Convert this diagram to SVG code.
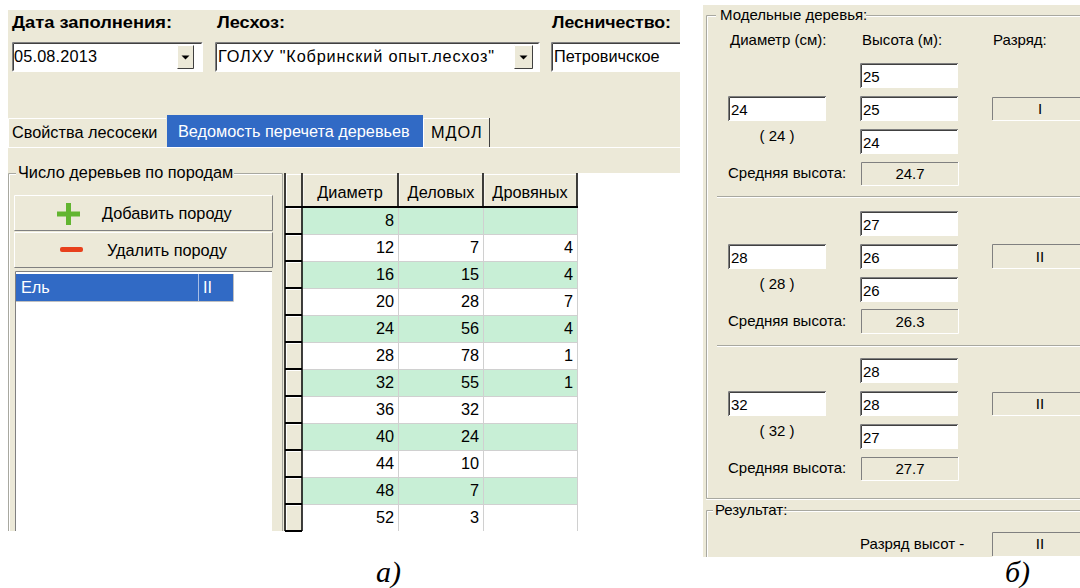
<svg xmlns="http://www.w3.org/2000/svg" width="1080" height="588" viewBox="0 0 1080 588">
<style>
text{font-family:"Liberation Sans",Arial,sans-serif;font-size:16.3px;fill:#000}
.b{font-weight:bold;font-size:16px}
.s{font-size:15px}
.n{font-size:15.3px}
.w{fill:#fff}
.m{text-anchor:middle}
.e{text-anchor:end}
.cap{font-family:"Liberation Serif","Times New Roman",serif;font-style:italic;font-size:30px}
.bg{fill:#ECE9D8}
.dk{stroke:#808080;fill:none}
.dd{stroke:#404040;fill:none}
.lt{stroke:#fff;fill:none}
.gv{stroke:#A8A8A0;fill:none}
.gl{stroke:#D0D0D0;fill:none}
.gr{fill:#C8EFD6}
.tb{fill:#fff}
</style>
<rect width="1080" height="588" fill="#fff"/>

<g id="panel-a">
<rect x="8" y="10" width="672" height="163" class="bg"/>
<rect x="8" y="173" width="275" height="358" class="bg"/>

<g id="header-labels">
<text x="12" y="28" class="b" textLength="160" lengthAdjust="spacingAndGlyphs">Дата заполнения:</text>
<text x="217" y="28" class="b" textLength="68" lengthAdjust="spacingAndGlyphs">Лесхоз:</text>
<text x="552" y="28" class="b" textLength="119" lengthAdjust="spacingAndGlyphs">Лесничество:</text>
</g>

<g id="combo-date">
<rect x="12" y="42" width="191" height="30" class="tb"/>
<path d="M12.5 71.5V42.5H202.5" class="dk"/>
<path d="M13.5 70.5V43.5H201.5" class="dd"/>
<path d="M12.5 71.5H202.5V42.5" stroke="#fff" fill="none"/>
<rect x="177" y="45" width="17" height="24" class="bg"/>
<path d="M177.5 68.5V45.5H193.5" class="lt"/>
<path d="M177.5 68.5H193.5V45.5" class="dd"/>
<path d="M181.5 55.5h8l-4 4z" fill="#000"/>
<text x="14" y="62" textLength="83">05.08.2013</text>
</g>

<g id="combo-leshoz">
<rect x="215" y="42" width="325" height="30" class="tb"/>
<path d="M215.5 71.5V42.5H539.5" class="dk"/>
<path d="M216.5 70.5V43.5H538.5" class="dd"/>
<rect x="514" y="45" width="19" height="24" class="bg"/>
<path d="M514.5 68.5V45.5H532.5" class="lt"/>
<path d="M514.5 68.5H532.5V45.5" class="dd"/>
<path d="M519.5 55.5h8l-4 4z" fill="#000"/>
<text x="218" y="62" textLength="276">ГОЛХУ "Кобринский опыт.лесхоз"</text>
</g>

<g id="combo-lesn">
<rect x="551" y="42" width="129" height="30" class="tb"/>
<path d="M551.5 71.5V42.5H680" class="dk"/>
<path d="M552.5 70.5V43.5H680" class="dd"/>
<text x="554" y="62">Петровичское</text>
</g>

<g id="tabs">
<path d="M8 147.5H680" class="lt"/>
<path d="M8.5 147V118.5H166" class="lt"/>
<text x="12" y="138">Свойства лесосеки</text>
<rect x="167" y="115" width="256" height="32" fill="#316AC5"/>
<text x="178" y="137" class="w">Ведомость перечета деревьев</text>
<path d="M423.5 147V118.5H489" class="lt"/>
<path d="M489.5 118V147" class="dd"/>
<text x="431" y="138" letter-spacing="1">МДОЛ</text>
</g>

<g id="group-species">
<path d="M16 173.5H8.5V531" class="gv"/>
<path d="M16 174.5H9.5V531" class="lt"/>
<path d="M234 173.5H282.5V531" class="gv"/>
<path d="M234 174.5H281.5" class="lt"/>
<text x="18" y="178">Число деревьев по породам</text>
</g>

<g id="btn-add">
<rect x="14" y="195" width="259" height="36" class="bg"/>
<path d="M14.5 230V195.5H272" class="lt"/>
<path d="M14.5 230.5H272.5V195.5" class="dk"/>
<rect x="57" y="211.5" width="23" height="5" fill="#62B530"/>
<rect x="66" y="203" width="5" height="22" fill="#62B530"/>
<text x="102" y="219">Добавить породу</text>
</g>

<g id="btn-del">
<rect x="14" y="232" width="259" height="36" class="bg"/>
<path d="M14.5 267V232.5H272" class="lt"/>
<path d="M14.5 267.5H272.5V232.5" class="dk"/>
<rect x="60" y="247" width="23" height="5" rx="2" fill="#E8401C"/>
<text x="107" y="256">Удалить породу</text>
</g>

<g id="species-list">
<rect x="15" y="271" width="257" height="260" class="tb"/>
<path d="M15.5 531V271.5H272" class="dk"/>
<rect x="16" y="274" width="217" height="27" fill="#316AC5"/>
<path d="M16 301.5H233.5V274" stroke="#C0C0C0" fill="none"/>
<path d="M198.5 274V301" stroke="#A8BEE6"/>
<text x="21" y="293" class="w">Ель</text>
<text x="203" y="293" class="w">II</text>
</g>

<g id="grid">
<rect x="283" y="173" width="294" height="358" class="bg"/>
<rect x="302" y="207" width="275" height="324" fill="#fff"/>
<g class="gr">
<rect x="302" y="207" width="275" height="27"/>
<rect x="302" y="261" width="275" height="27"/>
<rect x="302" y="315" width="275" height="27"/>
<rect x="302" y="369" width="275" height="27"/>
<rect x="302" y="423" width="275" height="27"/>
<rect x="302" y="477" width="275" height="27"/>
</g>
<path d="M302 234.5H577M302 261.5H577M302 288.5H577M302 315.5H577M302 342.5H577M302 369.5H577M302 396.5H577M302 423.5H577M302 450.5H577M302 477.5H577M302 504.5H577M398.5 207V531M483.5 207V531M577.5 207V531" class="gl"/>
<path d="M286 174.5H577M303 174.5V206M399 174.5V206M484 174.5V206M286 208.5H301M286 235.5H301M286 262.5H301M286 289.5H301M286 316.5H301M286 343.5H301M286 370.5H301M286 397.5H301M286 424.5H301M286 451.5H301M286 478.5H301M286 505.5H301M286.5 174V531" class="lt"/>
<path d="M285 207H578M285 234H302M285 261H302M285 288H302M285 315H302M285 342H302M285 369H302M285 396H302M285 423H302M285 450H302M285 477H302M285 504H302M285 531H302" stroke="#000" stroke-width="2" fill="none"/>
<path d="M285 173V531M302 173V531M398 173V207M483 173V207M577 173V207" stroke="#000" stroke-width="1.5" fill="none"/>
<text x="350" y="198" class="m">Диаметр</text>
<text x="441" y="198" class="m">Деловых</text>
<text x="530" y="198" class="m">Дровяных</text>
<g class="e n">
<text x="394" y="226">8</text>
<text x="394" y="253">12</text><text x="479" y="253">7</text><text x="573" y="253">4</text>
<text x="394" y="280">16</text><text x="479" y="280">15</text><text x="573" y="280">4</text>
<text x="394" y="307">20</text><text x="479" y="307">28</text><text x="573" y="307">7</text>
<text x="394" y="334">24</text><text x="479" y="334">56</text><text x="573" y="334">4</text>
<text x="394" y="361">28</text><text x="479" y="361">78</text><text x="573" y="361">1</text>
<text x="394" y="388">32</text><text x="479" y="388">55</text><text x="573" y="388">1</text>
<text x="394" y="415">36</text><text x="479" y="415">32</text>
<text x="394" y="442">40</text><text x="479" y="442">24</text>
<text x="394" y="469">44</text><text x="479" y="469">10</text>
<text x="394" y="496">48</text><text x="479" y="496">7</text>
<text x="394" y="523">52</text><text x="479" y="523">3</text>
</g>
</g>
</g>

<g id="panel-b">
<rect x="703" y="5" width="377" height="552" class="bg"/>

<g id="group-model">
<path d="M716 15.5H706.5V498.5H1080M866 15.5H1080" class="gv"/>
<path d="M716 16.5H707.5V497.5M866 16.5H1080M706 499.5H1080" class="lt"/>
<path d="M717 196.5H1080M717 345.5H1080" class="gv"/>
<path d="M717 197.5H1080M717 346.5H1080" class="lt"/>
<text x="720" y="20" class="s">Модельные деревья:</text>
<text x="730" y="45" class="s">Диаметр (см):</text>
<text x="862" y="45" class="s">Высота (м):</text>
<text x="993" y="45" class="s">Разряд:</text>
</g>

<g id="sec1">
<rect x="860" y="63" width="98" height="25" class="tb"/><path d="M860.5 88V63.5H958" class="dk"/><path d="M861.5 87V64.5H957" class="dd"/>
<rect x="860" y="96" width="98" height="25" class="tb"/><path d="M860.5 121V96.5H958" class="dk"/><path d="M861.5 120V97.5H957" class="dd"/>
<rect x="860" y="129" width="98" height="25" class="tb"/><path d="M860.5 154V129.5H958" class="dk"/><path d="M861.5 153V130.5H957" class="dd"/>
<rect x="728" y="96" width="98" height="25" class="tb"/><path d="M728.5 121V96.5H826" class="dk"/><path d="M729.5 120V97.5H825" class="dd"/>
<path d="M861.5 185V162.5H958" class="dk"/><path d="M861.5 185.5H958.5V162" class="lt"/>
<path d="M992.5 120V97.5H1080" class="dk"/><path d="M992.5 120.5H1080" class="lt"/>
<text x="863" y="82" class="s">25</text>
<text x="863" y="115" class="s">25</text>
<text x="863" y="148" class="s">24</text>
<text x="731" y="115" class="s">24</text>
<text x="777" y="141" class="s m">( 24 )</text>
<text x="728" y="178" class="s">Средняя высота:</text>
<text x="910" y="179" class="s m">24.7</text>
<text x="1040" y="114" class="s m">I</text>
</g>

<g id="sec2">
<rect x="860" y="211" width="98" height="25" class="tb"/><path d="M860.5 236V211.5H958" class="dk"/><path d="M861.5 235V212.5H957" class="dd"/>
<rect x="860" y="244" width="98" height="25" class="tb"/><path d="M860.5 269V244.5H958" class="dk"/><path d="M861.5 268V245.5H957" class="dd"/>
<rect x="860" y="277" width="98" height="25" class="tb"/><path d="M860.5 302V277.5H958" class="dk"/><path d="M861.5 301V278.5H957" class="dd"/>
<rect x="728" y="244" width="98" height="25" class="tb"/><path d="M728.5 269V244.5H826" class="dk"/><path d="M729.5 268V245.5H825" class="dd"/>
<path d="M861.5 333V309.5H958" class="dk"/><path d="M861.5 333.5H958.5V309" class="lt"/>
<path d="M992.5 268V244.5H1080" class="dk"/><path d="M992.5 268.5H1080" class="lt"/>
<text x="863" y="230" class="s">27</text>
<text x="863" y="263" class="s">26</text>
<text x="863" y="296" class="s">26</text>
<text x="731" y="263" class="s">28</text>
<text x="777" y="289" class="s m">( 28 )</text>
<text x="728" y="326" class="s">Средняя высота:</text>
<text x="910" y="327" class="s m">26.3</text>
<text x="1040" y="262" class="s m">II</text>
</g>

<g id="sec3">
<rect x="860" y="358" width="98" height="25" class="tb"/><path d="M860.5 383V358.5H958" class="dk"/><path d="M861.5 382V359.5H957" class="dd"/>
<rect x="860" y="391" width="98" height="25" class="tb"/><path d="M860.5 416V391.5H958" class="dk"/><path d="M861.5 415V392.5H957" class="dd"/>
<rect x="860" y="424" width="98" height="25" class="tb"/><path d="M860.5 449V424.5H958" class="dk"/><path d="M861.5 448V425.5H957" class="dd"/>
<rect x="728" y="391" width="98" height="25" class="tb"/><path d="M728.5 416V391.5H826" class="dk"/><path d="M729.5 415V392.5H825" class="dd"/>
<path d="M861.5 480V457.5H958" class="dk"/><path d="M861.5 480.5H958.5V457" class="lt"/>
<path d="M992.5 415V392.5H1080" class="dk"/><path d="M992.5 415.5H1080" class="lt"/>
<text x="863" y="377" class="s">28</text>
<text x="863" y="410" class="s">28</text>
<text x="863" y="443" class="s">27</text>
<text x="731" y="410" class="s">32</text>
<text x="777" y="436" class="s m">( 32 )</text>
<text x="728" y="473" class="s">Средняя высота:</text>
<text x="910" y="474" class="s m">27.7</text>
<text x="1040" y="409" class="s m">II</text>
</g>

<g id="group-result">
<path d="M713 510.5H706.5V557M774 510.5H1080" class="gv"/>
<path d="M713 511.5H707.5V557M774 511.5H1080" class="lt"/>
<text x="715" y="515" class="s">Результат:</text>
<text x="860" y="549" class="s">Разряд высот -</text>
<path d="M992.5 556V532.5H1080" class="dk"/><path d="M992.5 556.5H1080" class="lt"/>
<text x="1040" y="549" class="s m">II</text>
</g>
</g>

<g id="captions">
<text x="376" y="582" class="cap">а)</text>
<text x="1005" y="582" class="cap">б)</text>
</g>
</svg>
